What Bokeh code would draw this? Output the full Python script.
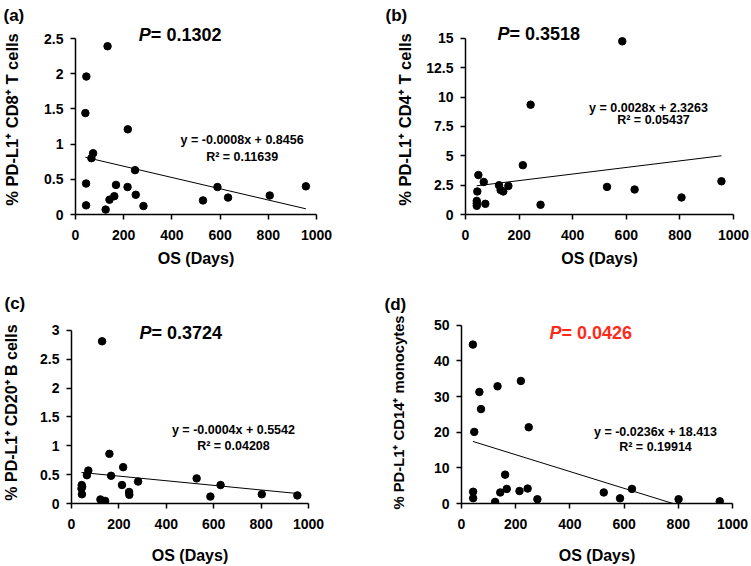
from bokeh.plotting import figure
from bokeh.models import Range1d, Label, FixedTicker
from bokeh.layouts import column, row
from bokeh.embed import file_html
from bokeh.resources import INLINE

# ---------------- data ----------------
os_a = [41, 44, 44, 45, 66, 73, 125, 133, 141, 161, 168, 216, 217, 247, 250, 282, 529, 589, 633, 806, 956]
cd8 = [1.44, 0.44, 0.13, 1.96, 0.80, 0.87, 0.07, 2.39, 0.21, 0.26, 0.42, 0.39, 1.21, 0.63, 0.28, 0.12, 0.20, 0.39, 0.24, 0.27, 0.40]

os_b = [42, 42, 42, 44, 48, 68, 74, 125, 131, 141, 160, 214, 243, 280, 528, 585, 631, 806, 955]
cd4 = [0.74, 0.94, 1.16, 1.96, 3.36, 2.77, 0.91, 2.49, 2.09, 1.96, 2.43, 4.2, 9.35, 0.83, 2.35, 14.75, 2.13, 1.45, 2.83]

os_c = [42, 43, 44, 45, 65, 71, 122, 129, 142, 160, 167, 213, 218, 243, 244, 281, 528, 586, 629, 803, 953]
cd20 = [0.26, 0.32, 0.16, 0.29, 0.49, 0.57, 0.07, 2.81, 0.045, 0.86, 0.48, 0.32, 0.63, 0.20, 0.15, 0.38, 0.435, 0.12, 0.32, 0.16, 0.14]

os_d = [42, 43, 43, 47, 66, 72, 124, 133, 143, 161, 167, 214, 219, 244, 248, 280, 525, 585, 629, 801, 953]
cd14 = [44.6, 3.3, 1.5, 20.1, 31.3, 26.5, 0.45, 32.9, 3.1, 8.1, 4.1, 3.5, 34.4, 4.2, 21.4, 1.2, 3.1, 1.45, 4.1, 1.2, 0.6]

slopes = [-0.0008, 0.0028, -0.0004, -0.0236]
intercepts = [0.8456, 2.3263, 0.5542, 18.413]
eq_texts = ["y = -0.0008x + 0.8456", "y = 0.0028x + 2.3263", "y = -0.0004x + 0.5542", "y = -0.0236x + 18.413"]
r2_texts = ["R\u00b2 = 0.11639", "R\u00b2 = 0.05437", "R\u00b2 = 0.04208", "R\u00b2 = 0.19914"]
p_texts = ["= 0.1302", "= 0.3518", "= 0.3724", "= 0.0426"]
panel_tags = ["(a)", "(b)", "(c)", "(d)"]
y_titles = ["% PD-L1\u207a CD8\u207a T cells", "% PD-L1\u207a CD4\u207a T cells",
            "% PD-L1\u207a CD20\u207a B cells", "% PD-L1\u207a CD14\u207a monocytes"]
x_ticks = [0, 200, 400, 600, 800, 1000]
y_ticks_a = [0, 0.5, 1, 1.5, 2, 2.5]
y_labels_a = ["0", "0.5", "1", "1.5", "2", "2.5"]
y_ticks_b = [0, 2.5, 5, 7.5, 10, 12.5, 15]
y_labels_b = ["0", "2.5", "5", "7.5", "10", "12.5", "15"]
y_ticks_c = [0, 0.5, 1, 1.5, 2, 2.5, 3]
y_labels_c = ["0", "0.5", "1", "1.5", "2", "2.5", "3"]
y_ticks_d = [0, 10, 20, 30, 40, 50]
y_labels_d = ["0", "10", "20", "30", "40", "50"]

FONT = "Liberation Sans"


def make_panel(xs, ys, k, yticks, ylabels, geom, texts, ylab_standoff, ylab_size,
               xlab_standoff, tag_standoff, pcolor="black"):
    # geom: fig x, fig y, fig w, fig h, frame left, frame top (extended), frame right,
    #       frame bottom (y=0), pixel row of the top y tick
    fx, fy, fw, fh, FL, FT, FR, FB, YT = geom
    ymax = yticks[-1]
    per_px = ymax / (FB - YT)
    y_top = ymax + (YT - FT) * per_px
    p = figure(width=fw, height=fh, x_range=Range1d(0, 1000), y_range=Range1d(0, y_top),
               output_backend="svg", toolbar_location=None,
               min_border_left=FL - fx, min_border_right=fx + fw - FR,
               min_border_top=FT - fy, min_border_bottom=fy + fh - FB)
    p.outline_line_color = None
    p.xgrid.visible = False
    p.ygrid.visible = False
    p.background_fill_color = "white"
    p.border_fill_color = "white"

    for ax in (p.xaxis[0], p.yaxis[0]):
        ax.axis_line_color = "black"
        ax.axis_line_width = 1.5
        ax.major_tick_line_color = "black"
        ax.major_tick_line_width = 1.5
        ax.major_tick_in = 0
        ax.major_tick_out = 5
        ax.minor_tick_line_color = None
        ax.major_label_text_font = FONT
        ax.major_label_text_font_style = "bold"
        ax.major_label_text_font_size = "14px"
        ax.major_label_text_color = "black"
        ax.axis_label_text_font = FONT
        ax.axis_label_text_font_style = "bold"
        ax.axis_label_text_font_size = "16px"
        ax.axis_label_text_color = "black"

    p.xaxis[0].ticker = FixedTicker(ticks=x_ticks)
    p.xaxis[0].major_label_standoff = 10
    p.xaxis[0].axis_label = "OS (Days)"
    p.xaxis[0].axis_label_standoff = xlab_standoff
    p.yaxis[0].ticker = FixedTicker(ticks=yticks)
    p.yaxis[0].bounds = (0, ymax)
    p.yaxis[0].major_label_overrides = {t: l for t, l in zip(yticks, ylabels)}
    p.yaxis[0].major_label_standoff = 7
    p.yaxis[0].axis_label = y_titles[k]
    p.yaxis[0].axis_label_standoff = ylab_standoff
    p.yaxis[0].axis_label_text_font_size = ylab_size

    # panel tag as the figure title, pushed left of the frame
    tag_x = texts[0]
    p.title.text = panel_tags[k]
    p.title.align = "left"
    p.title.offset = tag_x - FL
    p.title.standoff = tag_standoff
    p.title.text_font = FONT
    p.title.text_font_style = "bold"
    p.title.text_font_size = "17px"
    p.title.text_color = "black"

    # trendline from the fitted equation, across the data's x range
    x0, x1 = min(xs), max(xs)
    p.line([x0, x1], [slopes[k] * x0 + intercepts[k], slopes[k] * x1 + intercepts[k]],
           line_color="black", line_width=1)
    p.scatter(xs, ys, size=7.5, fill_color="black", line_color="black")

    def dx(px):
        return (px - FL) / (FR - FL) * 1000.0

    def dy(py):
        return (FB - py) * per_px

    (p_split, p_y), (eq_x, eq_y), (r2_x, r2_y) = texts[1:]
    p.add_layout(Label(x=dx(p_split), y=dy(p_y), text="P", text_font=FONT,
                       text_font_style="bold italic", text_font_size="18px", text_color=pcolor,
                       text_align="right", text_baseline="middle"))
    p.add_layout(Label(x=dx(p_split), y=dy(p_y), text=p_texts[k], text_font=FONT,
                       text_font_style="bold", text_font_size="18px", text_color=pcolor,
                       text_align="left", text_baseline="middle"))
    p.add_layout(Label(x=dx(eq_x), y=dy(eq_y), text=eq_texts[k], text_font=FONT,
                       text_font_style="bold", text_font_size="12.5px", text_color="black",
                       text_align="center", text_baseline="middle"))
    p.add_layout(Label(x=dx(r2_x), y=dy(r2_y), text=r2_texts[k], text_font=FONT,
                       text_font_style="bold", text_font_size="12.5px", text_color="black",
                       text_align="center", text_baseline="middle"))
    return p


pa = make_panel(os_a, cd8, 0, y_ticks_a, y_labels_a,
                (0, 0, 375, 283, 73, 24, 316, 214, 38),
                (1, (149, 34), (241, 139), (241, 156)), 20, "16.5px", 7, 0)
pb = make_panel(os_b, cd4, 1, y_ticks_b, y_labels_b,
                (375, 0, 376, 283, 465, 24, 733, 216, 38),
                (385, (509, 34), (648, 108), (653, 121)), 9, "16.5px", 7, 0)
pc = make_panel(os_c, cd20, 2, y_ticks_c, y_labels_c,
                (0, 283, 375, 283, 68, 320, 308, 506, 329),
                (1, (149, 332), (232, 431), (232, 447)), 17, "16px", 15, 17)
pd_ = make_panel(os_d, cd14, 3, y_ticks_d, y_labels_d,
                 (375, 283, 376, 283, 461, 318, 732, 506, 322),
                 (384, (561, 330), (655, 432), (655, 448)), 24, "14.8px", 15, 16,
                 pcolor="#FF2A1A")

layout = column(row(pa, pb), row(pc, pd_))
open("out.html", "w").write(file_html(layout, INLINE))
